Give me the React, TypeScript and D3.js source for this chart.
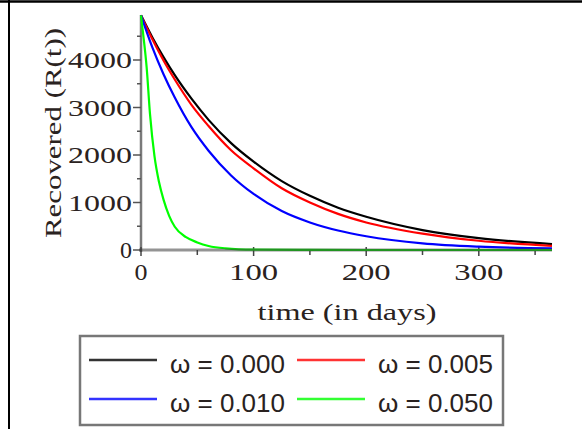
import * as d3 from "d3";

// days sampled for the three slow curves
const days = [0, 10, 20, 30, 45, 60, 80, 100, 125, 150, 175, 200, 250, 300, 365];
const r000 = [4940, 4480, 4060, 3680, 3180, 2740, 2250, 1860, 1450, 1140, 890, 700, 420, 250, 125];
const r005 = [4940, 4440, 3990, 3590, 3050, 2610, 2100, 1720, 1300, 1000, 760, 580, 345, 195, 88];
const r010 = [4940, 4270, 3700, 3210, 2580, 2090, 1570, 1180, 820, 580, 410, 290, 140, 70, 35];

// the fast one needs more points near the start
const daysFast = [0, 2, 5, 8, 12, 16, 20, 25, 30, 40, 50, 60, 75, 100, 150, 200, 365];
const r050 = [4940, 4530, 3850, 2860, 1970, 1430, 1060, 720, 490, 270, 160, 85, 35, 8, 2, 0, 0];

const yTicks = [0, 1000, 2000, 3000, 4000];
const yMinor = [500, 1500, 2500, 3500, 4500];
const xTicks = [0, 100, 200, 300];
const xMinor = [50, 150, 250, 350];

const series = [
  { label: "ω = 0.000", color: "#000000", legend: "#333333", t: days, v: r000 },
  { label: "ω = 0.005", color: "#ff0000", legend: "#ff3333", t: days, v: r005 },
  { label: "ω = 0.010", color: "#0000ff", legend: "#3333ff", t: days, v: r010 },
  { label: "ω = 0.050", color: "#00ff00", legend: "#33ff33", t: daysFast, v: r050 },
];

const serif = "'Liberation Serif', 'DejaVu Serif', serif";
const sans = "'Liberation Sans', Arial, sans-serif";
const ink = "#2a2220";

export default function App() {
  const x = d3.scaleLinear().domain([0, 365]).range([141, 552]);
  const y = d3.scaleLinear().domain([0, 4000]).range([250, 60]);

  const line = d3
    .line<[number, number]>()
    .x((d) => x(d[0]))
    .y((d) => y(d[1]))
    .curve(d3.curveMonotoneX);

  const legendCols = [89, 297];
  const legendRows = [360, 399];

  return (
    <svg
      width={582}
      height={429}
      style={{ position: "absolute", left: 0, top: 0, background: "#fff" }}
    >
      {/* frame */}
      <line x1={0} x2={582} y1={1.5} y2={1.5} stroke="#000" strokeWidth={2.5} />
      <line x1={9} x2={9} y1={0} y2={429} stroke="#000" strokeWidth={2} />

      {/* y axis */}
      <line x1={x(0)} x2={x(0)} y1={15} y2={252} stroke="#7a7a7a" strokeWidth={2.5} />
      {yTicks.map((t) => (
        <g key={"yt" + t}>
          <line x1={133} x2={141} y1={y(t)} y2={y(t)} stroke="#555" strokeWidth={1.5} />
          <text
            x={132}
            y={y(t) + 8}
            textAnchor="end"
            fontFamily={serif}
            fontSize={24}
            fill={ink}
            textLength={t === 0 ? 12 : 64}
            lengthAdjust="spacingAndGlyphs"
          >
            {t}
          </text>
        </g>
      ))}
      {yMinor.map((t) => (
        <line key={"ym" + t} x1={137} x2={141} y1={y(t)} y2={y(t)} stroke="#555" strokeWidth={1.5} />
      ))}

      {/* x ticks */}
      {xTicks.map((t) => (
        <g key={"xt" + t}>
          <line x1={x(t)} x2={x(t)} y1={247} y2={256} stroke="#444" strokeWidth={1.5} />
          <text
            x={x(t)}
            y={280}
            textAnchor="middle"
            fontFamily={serif}
            fontSize={24}
            fill={ink}
            textLength={t === 0 ? 13 : 49}
            lengthAdjust="spacingAndGlyphs"
          >
            {t}
          </text>
        </g>
      ))}
      {xMinor.map((t) => (
        <line key={"xm" + t} x1={x(t)} x2={x(t)} y1={250} y2={255} stroke="#444" strokeWidth={1.5} />
      ))}

      {/* curves */}
      {series.map((s) => (
        <path
          key={s.label}
          d={line(s.t.map((t, i) => [t, s.v[i]] as [number, number])) || ""}
          fill="none"
          stroke={s.color}
          strokeWidth={2.2}
        />
      ))}

      {/* x axis on top so the flat green tail looks darker */}
      <line x1={139} x2={552} y1={y(0)} y2={y(0)} stroke="#3c3c3c" strokeWidth={3} strokeOpacity={0.55} />

      {/* axis titles */}
      <text
        transform="translate(61,133) rotate(-90)"
        textAnchor="middle"
        fontFamily={serif}
        fontSize={23}
        fill={ink}
        textLength={210}
        lengthAdjust="spacingAndGlyphs"
      >
        Recovered (R(t))
      </text>
      <text
        x={347}
        y={320}
        textAnchor="middle"
        fontFamily={serif}
        fontSize={23}
        fill={ink}
        textLength={179}
        lengthAdjust="spacingAndGlyphs"
      >
        time (in days)
      </text>

      {/* legend */}
      <rect x={80} y={336} width={423} height={89} fill="#fff" stroke="#777" strokeWidth={2.5} />
      {series.map((s, i) => {
        const lx = legendCols[i % 2];
        const ly = legendRows[Math.floor(i / 2)];
        return (
          <g key={"lg" + s.label}>
            <line x1={lx} x2={lx + 68} y1={ly} y2={ly} stroke={s.legend} strokeWidth={2.5} />
            <text
              x={lx + 196}
              y={ly + 13}
              textAnchor="end"
              fontFamily={sans}
              fontSize={26}
              fill={ink}
            >
              {s.label}
            </text>
          </g>
        );
      })}
    </svg>
  );
}
